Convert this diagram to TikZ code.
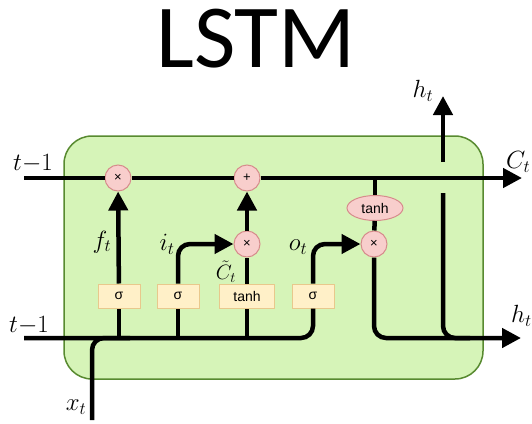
\documentclass[tikz,border=0pt]{standalone}
\usepackage{fontspec}
\usetikzlibrary{arrows.meta,shapes.geometric}
\newfontfamily\titlefont{Carlito}
\newfontfamily\gatefont{Liberation Sans}
\definecolor{cellfill}{RGB}{214,244,184}
\definecolor{celldraw}{RGB}{88,138,48}
\definecolor{opfill}{RGB}{248,206,204}
\definecolor{opdraw}{RGB}{214,140,140}
\definecolor{gatefill}{RGB}{255,240,200}
\definecolor{gatedraw}{RGB}{232,200,140}

\begin{document}
\begin{tikzpicture}[x=1pt, y=-1pt, >={Triangle[length=19pt,width=19pt]},
  flow/.style={line width=4.5pt},
  op/.style={circle, draw=opdraw, fill=opfill, line width=1pt, minimum size=26pt,
    inner sep=0pt, font=\gatefont\fontsize{13}{13}\selectfont},
  gatebox/.style={rectangle, draw=gatedraw, fill=gatefill, line width=1pt,
    minimum width=42pt, minimum height=24pt, inner sep=0pt,
    font=\gatefont\fontsize{14}{14}\selectfont},
  lbl/.style={font=\fontsize{24}{24}\selectfont, inner sep=1pt}]
  \useasboundingbox (0,0) rectangle (532,423);

  % Title
  \node[font=\titlefont\fontsize{90}{90}\selectfont, anchor=base] (title) at (256,67) {LSTM};

  % Cell body
  \draw[celldraw, fill=cellfill, line width=1.5pt, rounded corners=28pt] (64,136) rectangle (483,379);

  % Pointwise operations
  \node[op] (fx) at (118,178) {×};
  \node[op] (pl) at (247,178) {+};
  \node[op] (ix) at (247,244) {×};
  \node[op] (ox) at (374,244) {×};
  \node[op, ellipse, minimum width=56pt, minimum height=25pt,
    font=\gatefont\fontsize{14}{14}\selectfont] (th) at (375,208) {tanh};

  % Gate layers
  \node[gatebox] (sf) at (119,296) {σ};
  \node[gatebox] (si) at (178,296) {σ};
  \node[gatebox, minimum width=55pt] (sc) at (247,296) {tanh};
  \node[gatebox] (so) at (313,296) {σ};

  % Free ends
  \coordinate (cin) at (24,178);
  \coordinate (cout) at (522,178);
  \coordinate (hin) at (24,338);
  \coordinate (hout) at (521,338);
  \coordinate (xin) at (92,420);
  \coordinate (bx) at (130,338);
  \coordinate (bf) at (119,338);
  \coordinate (bi) at (178,338);
  \coordinate (bc) at (247,338);
  \coordinate (tap) at (375,178);
  \coordinate (hlow) at (443,193);
  \coordinate (hj) at (470,338);
  \coordinate (hmid) at (443,162);
  \coordinate (htop) at (443,96);

  % Cell state
  \draw[flow] (cin) -- (fx);
  \draw[flow] (fx) -- (pl);
  \draw[flow, ->] (pl) -- (cout);

  % Input line and x_t
  \draw[flow, rounded corners=12pt] (hin) -| (so);
  \draw[flow, rounded corners=12pt] (xin) |- (bx);

  % Forget gate
  \draw[flow] (bf) -- (sf);
  \draw[flow, ->] (sf) -- (fx);

  % Input gate
  \draw[flow] (bi) -- (si);
  \draw[flow, ->, rounded corners=12pt] (si) |- (ix);
  \draw[flow] (bc) -- (sc);
  \draw[flow] (sc) -- (ix);
  \draw[flow, ->] (ix) -- (pl);

  % Output gate
  \draw[flow, ->, rounded corners=12pt] (so) |- (ox);
  \draw[flow] (tap) -- (th);
  \draw[flow] (th) -- (ox);
  \draw[flow, ->, rounded corners=12pt] (ox) |- (hout);
  \draw[flow, rounded corners=12pt] (hlow) |- (hj);
  \draw[flow, ->] (hmid) -- (htop);

  % Labels
  \node[lbl] (cprev) at (33,164) {$t{-}1$};
  \node[lbl] (hprev) at (29,326) {$t{-}1$};
  \node[lbl, anchor=west] (clab) at (505,162) {$C_t$};
  \node[lbl, anchor=west] (hlab) at (510,316) {$h_t$};
  \node[lbl] (htlab) at (423,91) {$h_t$};
  \node[lbl] (xlab) at (76,407) {$x_t$};
  \node[lbl] (flab) at (102,242) {$f_t$};
  \node[lbl] (ilab) at (167,244) {$i_t$};
  \node[lbl, font=\fontsize{22}{22}\selectfont] (ctlab) at (226,272) {$\tilde{C}_t$};
  \node[lbl] (olab) at (298,247) {$o_t$};
\end{tikzpicture}
\end{document}
